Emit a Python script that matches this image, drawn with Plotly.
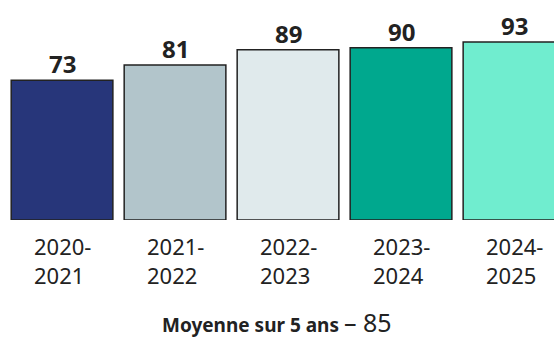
import plotly.graph_objects as go

# School-year periods and their scores
periods = ["2020-2021", "2021-2022", "2022-2023", "2023-2024", "2024-2025"]
tick_labels = ["2020-<br>2021", "2021-<br>2022", "2022-<br>2023", "2023-<br>2024", "2024-<br>2025"]
scores = [73, 81, 89, 90, 93]
bar_colors = ["#27367a", "#b2c5cb", "#e0eaec", "#00a88e", "#70edcf"]

average = round(sum(scores) / len(scores))

fig = go.Figure(
    go.Bar(
        x=list(range(len(periods))),
        y=scores,
        width=0.9,
        marker=dict(color=bar_colors, line=dict(color="#222222", width=1.5)),
        hoverinfo="skip",
    )
)

annotations = []
# value labels above bars
for i, v in enumerate(scores):
    annotations.append(dict(
        x=i, y=v, xref="x", yref="y", text=str(v), showarrow=False,
        yanchor="bottom", yshift=-2,
        font=dict(family="Noto Sans", size=24, color="#222222", weight="bold"),
    ))
# two-line period labels, left aligned within a centred block
for i, lab in enumerate(tick_labels):
    annotations.append(dict(
        x=i, y=0, xref="x", yref="paper", text=lab, showarrow=False,
        yanchor="top", yshift=-9, align="left",
        font=dict(family="Noto Sans", size=22, color="#222222"),
    ))
# five-year average
annotations.append(dict(
    x=0.5, y=0, xref="paper", yref="paper",
    text="<b>Moyenne sur 5 ans</b> <span style='font-size:25px'>\u2013 %d</span>" % average,
    showarrow=False, yanchor="middle", yshift=-102,
    font=dict(family="Noto Sans", size=19, color="#222222"),
))

fig.update_layout(
    width=554, height=341,
    margin=dict(l=0, r=0, t=0, b=121),
    paper_bgcolor="white", plot_bgcolor="white",
    showlegend=False,
    xaxis=dict(range=[-0.549, 4.354], visible=False, fixedrange=True),
    yaxis=dict(range=[0, 115], visible=False, fixedrange=True),
    annotations=annotations,
)

fig.write_html("out.html")
